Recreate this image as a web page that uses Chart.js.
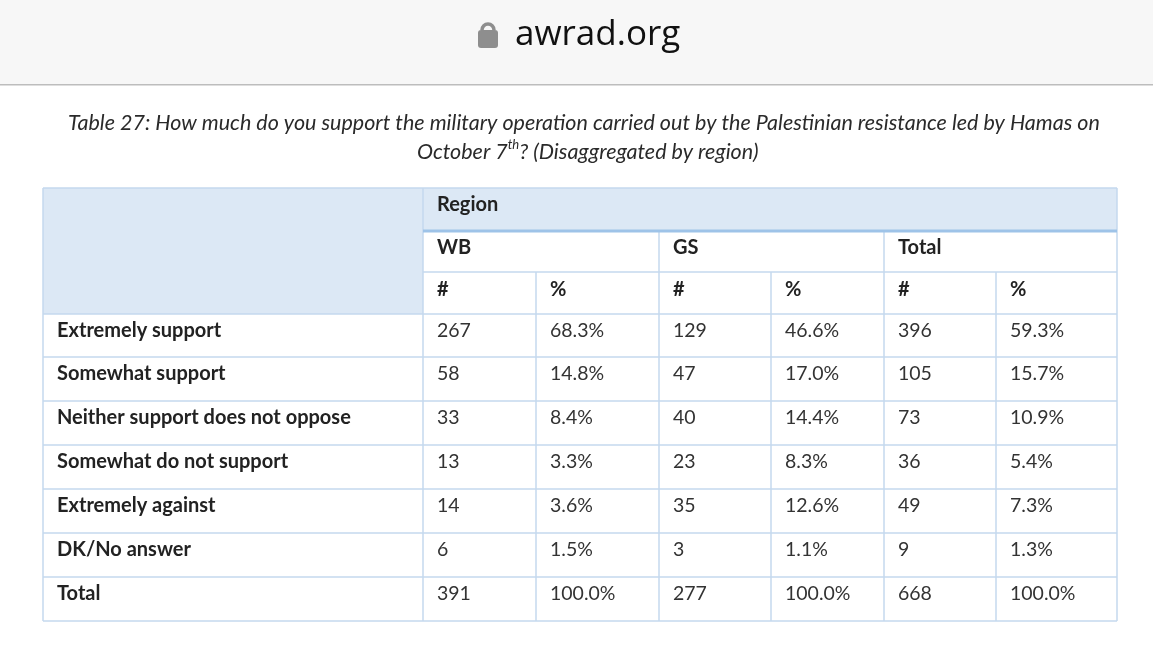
<!DOCTYPE html>
<html><head><meta charset="utf-8">
<script src="https://cdn.jsdelivr.net/npm/chart.js@4/dist/chart.umd.min.js"></script>
<style>html,body{margin:0;padding:0;background:#fff;}canvas{display:block;}</style>
</head><body>
<canvas id="c" width="1153" height="648"></canvas>
<script>
const siteName = "awrad.org";
const titleLines = ["Table 27: How much do you support the military operation carried out by the Palestinian resistance led by Hamas on",
                    "October 7th? (Disaggregated by region)"];
const groups = ["WB", "GS", "Total"];
const categories = ["Extremely support", "Somewhat support", "Neither support does not oppose",
                    "Somewhat do not support", "Extremely against", "DK/No answer", "Total"];
const wbCount = [267, 58, 33, 13, 14, 6, 391];
const wbPct = ["68.3%", "14.8%", "8.4%", "3.3%", "3.6%", "1.5%", "100.0%"];
const gsCount = [129, 47, 40, 23, 35, 3, 277];
const gsPct = ["46.6%", "17.0%", "14.4%", "8.3%", "12.6%", "1.1%", "100.0%"];
const totCount = [396, 105, 73, 36, 49, 9, 668];
const totPct = ["59.3%", "15.7%", "10.9%", "5.4%", "7.3%", "1.3%", "100.0%"];

const colX = [43, 423, 536, 659, 771, 884, 996, 1117];
const rowY = [188, 231, 272, 314, 357, 401, 445, 489, 533, 577, 621];
const FONT = "Lato, 'Open Sans', sans-serif";

const tablePlugin = {
  id: 'table',
  afterDraw(chart) {
    const ctx = chart.ctx;
    ctx.save();
    // browser bar
    ctx.fillStyle = '#f7f7f7';
    ctx.fillRect(0, 0, 1153, 84);
    ctx.fillStyle = '#bdbdbd';
    ctx.fillRect(0, 84, 1153, 1.5);
    ctx.fillStyle = '#8e8e8e';
    ctx.beginPath();
    ctx.roundRect(478, 30, 20, 18, 3);
    ctx.fill();
    ctx.strokeStyle = '#8e8e8e'; ctx.lineWidth = 3.5;
    ctx.beginPath(); ctx.arc(488, 30, 6, Math.PI, 0); ctx.stroke();
    ctx.fillStyle = '#111';
    ctx.font = "35px 'Open Sans', sans-serif";
    ctx.textBaseline = 'middle';
    ctx.fillText(siteName, 515, 35);

    // title
    ctx.fillStyle = '#2a2a2a';
    ctx.font = "italic 21.5px " + FONT;
    ctx.textAlign = 'center';
    ctx.fillText(titleLines[0], 584, 123);
    const t2 = titleLines[1].replace('7th', '7');
    const w2 = ctx.measureText(t2).width;
    ctx.textAlign = 'left';
    const sx = 582 - w2 / 2;
    const p1 = "October 7";
    ctx.fillText(p1, sx, 152);
    let x = sx + ctx.measureText(p1).width;
    ctx.font = "italic 13px " + FONT;
    ctx.fillText("th", x, 145);
    x += ctx.measureText("th").width;
    ctx.font = "italic 21.5px " + FONT;
    ctx.fillText("? (Disaggregated by region)", x, 152);

    // fills
    ctx.fillStyle = '#dce8f5';
    ctx.fillRect(colX[0], rowY[0], colX[1] - colX[0], rowY[3] - rowY[0]);
    ctx.fillRect(colX[1], rowY[0], colX[7] - colX[1], rowY[1] - rowY[0]);

    // grid
    ctx.strokeStyle = '#c5d8ee'; ctx.lineWidth = 1.5;
    const line = (x1, y1, x2, y2) => { ctx.beginPath(); ctx.moveTo(x1, y1); ctx.lineTo(x2, y2); ctx.stroke(); };
    line(colX[0], rowY[0], colX[7], rowY[0]);
    line(colX[1], rowY[2], colX[7], rowY[2]);
    for (let r = 3; r < rowY.length; r++) line(colX[0], rowY[r], colX[7], rowY[r]);
    line(colX[0], rowY[0], colX[0], rowY[10]);
    line(colX[1], rowY[0], colX[1], rowY[10]);
    line(colX[7], rowY[0], colX[7], rowY[10]);
    [3, 5].forEach(c => line(colX[c], rowY[1], colX[c], rowY[10]));
    [2, 4, 6].forEach(c => line(colX[c], rowY[2], colX[c], rowY[10]));
    ctx.strokeStyle = '#9ec3e8'; ctx.lineWidth = 3;
    line(colX[1], rowY[1], colX[7], rowY[1]);

    // header text
    ctx.fillStyle = '#222';
    ctx.textAlign = 'left';
    ctx.font = "bold 20px " + FONT;
    ctx.fillText("Region", colX[1] + 14, 205);
    groups.forEach((g, i) => ctx.fillText(g, colX[1 + i * 2] + 14, 248));
    for (let c = 1; c < 7; c++) ctx.fillText(c % 2 ? "#" : "%", colX[c] + 14, 290);

    // body
    const cols = [wbCount, wbPct, gsCount, gsPct, totCount, totPct];
    categories.forEach((cat, r) => {
      const cy = (rowY[3 + r] + rowY[4 + r]) / 2 - 5;
      ctx.font = "bold 20px " + FONT;
      ctx.fillStyle = '#222';
      ctx.fillText(cat, colX[0] + 14, cy);
      ctx.font = "19.5px " + FONT;
      ctx.fillStyle = '#333';
      cols.forEach((arr, c) => ctx.fillText(String(arr[r]), colX[c + 1] + 14, cy));
    });
    ctx.restore();
  }
};

new Chart(document.getElementById('c'), {
  type: 'bar',
  data: { labels: categories, datasets: [{ data: [], label: 'n' }] },
  options: {
    responsive: false, animation: false,
    plugins: { legend: { display: false }, tooltip: { enabled: false } },
    scales: { x: { display: false }, y: { display: false } }
  },
  plugins: [tablePlugin]
});
</script>
</body></html>
